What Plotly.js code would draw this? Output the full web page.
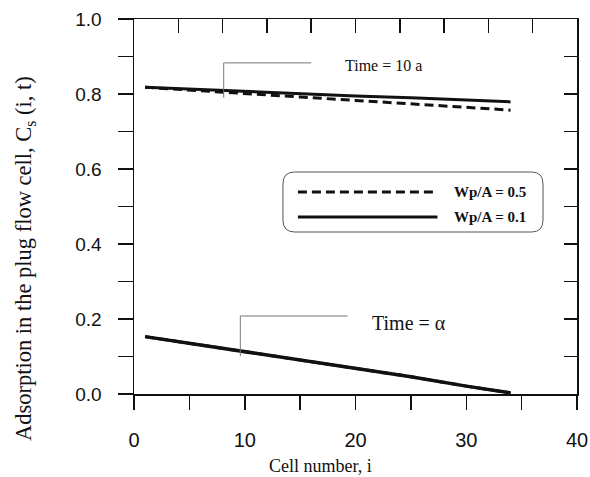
<!DOCTYPE html>
<html>
<head>
<meta charset="utf-8">
<script src="https://cdn.plot.ly/plotly-3.0.1.min.js"></script>
<style>html,body{margin:0;padding:0;background:#fff;}#chart{width:590px;height:477px;}</style>
</head>
<body>
<div id="chart"></div>
<script>
// Cell numbers
var cells = [1, 5, 10, 15, 20, 25, 30, 34];
// Time = 10 a
var t10_wp05 = [0.818, 0.810, 0.801, 0.792, 0.783, 0.774, 0.765, 0.757];
var t10_wp01 = [0.818, 0.813, 0.807, 0.801, 0.795, 0.790, 0.784, 0.779];
// Time = alpha (both series coincide)
var tinf_wp05 = [0.153, 0.135, 0.114, 0.091, 0.069, 0.046, 0.021, 0.003];
var tinf_wp01 = [0.153, 0.135, 0.114, 0.091, 0.069, 0.046, 0.021, 0.003];

var seriesNames = ['Wp/A = 0.5', 'Wp/A = 0.1'];
// bottom axis ticks (every 5, labelled every 10)
var xTickVals = [0, 5, 10, 15, 20, 25, 30, 35, 40];
var xTickText = ['0', '', '10', '', '20', '', '30', '', '40'];
// top axis ticks (every 4)
var xTopTickVals = [0, 4, 8, 12, 16, 20, 24, 28, 32, 36, 40];
// left axis ticks (every 0.1, labelled every 0.2)
var yTickVals = [0.0, 0.1, 0.2, 0.3, 0.4, 0.5, 0.6, 0.7, 0.8, 0.9, 1.0];
var yTickText = ['0.0', '', '0.2', '', '0.4', '', '0.6', '', '0.8', '', '1.0'];

var serif = '"Liberation Serif", "Times New Roman", serif';
var sans = '"Liberation Sans", Arial, sans-serif';

var dashStyle = '9px,5px';
var traces = [
  {x: cells, y: t10_wp05, mode: 'lines', line: {color: '#111', width: 3, dash: dashStyle}, showlegend: false, hoverinfo: 'skip'},
  {x: cells, y: t10_wp01, mode: 'lines', line: {color: '#111', width: 3}, showlegend: false, hoverinfo: 'skip'},
  {x: cells, y: tinf_wp05, mode: 'lines', line: {color: '#111', width: 3, dash: dashStyle}, showlegend: false, hoverinfo: 'skip'},
  {x: cells, y: tinf_wp01, mode: 'lines', line: {color: '#111', width: 3.5}, showlegend: false, hoverinfo: 'skip'},
  {x: [null], y: [null], xaxis: 'x2', yaxis: 'y2', mode: 'lines', showlegend: false, hoverinfo: 'skip'}
];

var thin = {color: '#777', width: 1};
var layout = {
  width: 590, height: 477,
  margin: {l: 134, r: 13, t: 19, b: 83},
  paper_bgcolor: '#fff', plot_bgcolor: '#fff',
  showlegend: false,
  xaxis: {
    range: [0, 40], tickmode: 'array', tickvals: xTickVals, ticktext: xTickText,
    showgrid: false, zeroline: false, showline: true, linecolor: '#111', linewidth: 1.5,
    ticks: 'outside', ticklen: 14, tickwidth: 1.5, tickcolor: '#111',
    tickfont: {family: sans, size: 20, color: '#111'}, ticklabelstandoff: 13
  },
  xaxis2: {
    overlaying: 'x', side: 'top', range: [0, 40], tickmode: 'array', tickvals: xTopTickVals,
    showticklabels: false, showgrid: false, zeroline: false, showline: true,
    linecolor: '#111', linewidth: 1.5, ticks: 'inside', ticklen: 14, tickwidth: 1.5, tickcolor: '#111'
  },
  yaxis: {
    range: [0, 1], tickmode: 'array', tickvals: yTickVals, ticktext: yTickText,
    showgrid: false, zeroline: false, showline: true, linecolor: '#111', linewidth: 1.5,
    ticks: 'outside', ticklen: 15, tickwidth: 1.5, tickcolor: '#111',
    tickfont: {family: sans, size: 19, color: '#111'}, ticklabelstandoff: 12
  },
  yaxis2: {
    overlaying: 'y', side: 'right', range: [0, 1], tickmode: 'array', tickvals: yTickVals,
    showticklabels: false, showgrid: false, zeroline: false, showline: true,
    linecolor: '#111', linewidth: 1.5, ticks: 'inside', ticklen: 13, tickwidth: 1.5, tickcolor: '#111'
  },
  shapes: [
    // leader for Time = 10 a
    {type: 'path', xref: 'x', yref: 'y', path: 'M 8.1,0.79 L 8.1,0.883 L 16,0.883', line: thin},
    // leader for Time = alpha
    {type: 'path', xref: 'x', yref: 'y', path: 'M 9.6,0.101 L 9.6,0.208 L 19.3,0.208', line: thin},
    // rounded legend box
    {type: 'path', xref: 'x', yref: 'y', line: {color: '#555', width: 1},
     path: 'M 14.5,0.592 L 35.9,0.592 Q 36.93,0.592 36.93,0.56 L 36.93,0.464 Q 36.93,0.432 35.9,0.432 L 14.5,0.432 Q 13.45,0.432 13.45,0.464 L 13.45,0.56 Q 13.45,0.592 14.5,0.592 Z'},
    // legend samples
    {type: 'line', xref: 'x', yref: 'y', x0: 14.8, x1: 27.4, y0: 0.539, y1: 0.539, line: {color: '#111', width: 3, dash: dashStyle}},
    {type: 'line', xref: 'x', yref: 'y', x0: 14.8, x1: 27.4, y0: 0.472, y1: 0.472, line: {color: '#111', width: 3}}
  ],
  annotations: [
    {xref: 'x', yref: 'y', x: 18.9, y: 0.876, text: 'Time = 10 a', showarrow: false, xanchor: 'left', yanchor: 'middle', font: {family: serif, size: 16, color: '#111'}},
    {xref: 'x', yref: 'y', x: 21.3, y: 0.189, text: 'Time = \u03b1', showarrow: false, xanchor: 'left', yanchor: 'middle', font: {family: serif, size: 20, color: '#111'}},
    {xref: 'x', yref: 'y', x: 28.7, y: 0.539, text: '<b>' + seriesNames[0] + '</b>', showarrow: false, xanchor: 'left', yanchor: 'middle', font: {family: serif, size: 15, color: '#111'}},
    {xref: 'x', yref: 'y', x: 28.7, y: 0.472, text: '<b>' + seriesNames[1] + '</b>', showarrow: false, xanchor: 'left', yanchor: 'middle', font: {family: serif, size: 15, color: '#111'}},
    {xref: 'paper', yref: 'paper', x: 0.42, y: -0.192, text: 'Cell number, i', showarrow: false, xanchor: 'center', yanchor: 'middle', font: {family: serif, size: 18, color: '#111'}},
    {xref: 'paper', yref: 'paper', x: -0.246, y: 0.36, text: 'Adsorption in the plug flow cell, C<sub>s</sub> (i, t)', textangle: -90, showarrow: false, xanchor: 'center', yanchor: 'middle', font: {family: serif, size: 22.5, color: '#111'}}
  ]
};

Plotly.newPlot('chart', traces, layout, {staticPlot: true, displayModeBar: false});
</script>
</body>
</html>
